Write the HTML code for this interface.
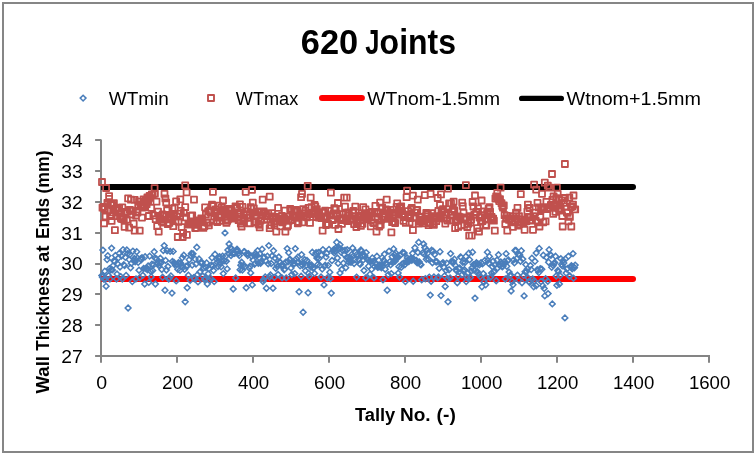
<!DOCTYPE html>
<html><head><meta charset="utf-8"><title>620 Joints</title>
<style>
html,body{margin:0;padding:0;background:#fff;}
svg{display:block;}
text{font-family:"Liberation Sans",sans-serif;fill:#000;}
</style></head><body>
<svg width="755" height="455" viewBox="0 0 755 455">
<rect x="0" y="0" width="755" height="455" fill="#fff"/>
<rect x="3" y="3" width="750" height="449" fill="#fff" stroke="#868686" stroke-width="2"/>
<text y="53.7" font-size="34.2" font-weight="bold"><tspan x="300.8" textLength="57.4" lengthAdjust="spacingAndGlyphs">620</tspan><tspan x="356.8" textLength="10" lengthAdjust="spacingAndGlyphs"> </tspan><tspan x="365.2" textLength="14.2" lengthAdjust="spacingAndGlyphs">J</tspan><tspan x="379.6" textLength="76.4" lengthAdjust="spacingAndGlyphs">oints</tspan></text>
<path d="M83.1 95.2l2.9 2.9l-2.9 2.9l-2.9 -2.9z" fill="none" stroke="#4A7EBB" stroke-width="1.5"/>
<text x="108.8" y="104.7" font-size="17.6" textLength="60" lengthAdjust="spacingAndGlyphs">WTmin</text>
<rect x="208" y="95" width="6" height="6" fill="none" stroke="#C0504D" stroke-width="1.9" stroke-linejoin="round"/>
<text x="235.8" y="104.7" font-size="17.6" textLength="62.4" lengthAdjust="spacingAndGlyphs">WTmax</text>
<line x1="322" y1="98" x2="361.9" y2="98" stroke="#FF0000" stroke-width="6" stroke-linecap="round"/>
<text x="367.2" y="104.7" font-size="17.6" textLength="133" lengthAdjust="spacingAndGlyphs">WTnom-1.5mm</text>
<line x1="521.6" y1="98.4" x2="561.4" y2="98.4" stroke="#000" stroke-width="5.2" stroke-linecap="round"/>
<text x="566.5" y="104.7" font-size="17.6" textLength="134.5" lengthAdjust="spacingAndGlyphs">Wtnom+1.5mm</text>
<path d="M101.0 139.6V356.0M101.0 356.0H710M95.1 356.00H101.0M95.1 325.00H101.0M95.1 294.00H101.0M95.1 264.00H101.0M95.1 233.00H101.0M95.1 202.00H101.0M95.1 171.00H101.0M95.1 140.00H101.0M101.00 356.0V362.7M177.00 356.0V362.7M253.00 356.0V362.7M329.00 356.0V362.7M405.00 356.0V362.7M481.00 356.0V362.7M557.00 356.0V362.7M633.00 356.0V362.7M709.00 356.0V362.7" fill="none" stroke="#848484" stroke-width="2"/>
<text x="82.6" y="362.7" font-size="17.6" text-anchor="end" textLength="21.4" lengthAdjust="spacingAndGlyphs">27</text>
<text x="82.6" y="331.7" font-size="17.6" text-anchor="end" textLength="21.4" lengthAdjust="spacingAndGlyphs">28</text>
<text x="82.6" y="300.7" font-size="17.6" text-anchor="end" textLength="21.4" lengthAdjust="spacingAndGlyphs">29</text>
<text x="82.6" y="269.7" font-size="17.6" text-anchor="end" textLength="21.4" lengthAdjust="spacingAndGlyphs">30</text>
<text x="82.6" y="239.7" font-size="17.6" text-anchor="end" textLength="21.4" lengthAdjust="spacingAndGlyphs">31</text>
<text x="82.6" y="208.7" font-size="17.6" text-anchor="end" textLength="21.4" lengthAdjust="spacingAndGlyphs">32</text>
<text x="82.6" y="177.7" font-size="17.6" text-anchor="end" textLength="21.4" lengthAdjust="spacingAndGlyphs">33</text>
<text x="82.6" y="146.7" font-size="17.6" text-anchor="end" textLength="21.4" lengthAdjust="spacingAndGlyphs">34</text>
<text x="101.6" y="389.2" font-size="17.6" text-anchor="middle" textLength="10.9" lengthAdjust="spacingAndGlyphs">0</text>
<text x="177.6" y="389.2" font-size="17.6" text-anchor="middle" textLength="31.2" lengthAdjust="spacingAndGlyphs">200</text>
<text x="253.6" y="389.2" font-size="17.6" text-anchor="middle" textLength="31.2" lengthAdjust="spacingAndGlyphs">400</text>
<text x="329.6" y="389.2" font-size="17.6" text-anchor="middle" textLength="31.2" lengthAdjust="spacingAndGlyphs">600</text>
<text x="405.6" y="389.2" font-size="17.6" text-anchor="middle" textLength="31.2" lengthAdjust="spacingAndGlyphs">800</text>
<text x="481.6" y="389.2" font-size="17.6" text-anchor="middle" textLength="41.4" lengthAdjust="spacingAndGlyphs">1000</text>
<text x="557.6" y="389.2" font-size="17.6" text-anchor="middle" textLength="41.4" lengthAdjust="spacingAndGlyphs">1200</text>
<text x="633.6" y="389.2" font-size="17.6" text-anchor="middle" textLength="41.4" lengthAdjust="spacingAndGlyphs">1400</text>
<text x="709.6" y="389.2" font-size="17.6" text-anchor="middle" textLength="41.4" lengthAdjust="spacingAndGlyphs">1600</text>
<text y="421.2" font-size="17.6" font-weight="bold"><tspan x="354.9" textLength="40.4" lengthAdjust="spacingAndGlyphs">Tally</tspan> <tspan x="400.0" textLength="30.6" lengthAdjust="spacingAndGlyphs">No.</tspan> <tspan x="436.6" textLength="19.2" lengthAdjust="spacingAndGlyphs">(-)</tspan></text>
<text transform="translate(48.8 393.3) rotate(-90)" font-size="18" font-weight="bold"><tspan x="-0.3" textLength="37.6" lengthAdjust="spacingAndGlyphs">Wall</tspan> <tspan x="42.6" textLength="83.4" lengthAdjust="spacingAndGlyphs">Thickness</tspan> <tspan x="131.2" textLength="16.6" lengthAdjust="spacingAndGlyphs">at</tspan> <tspan x="154.6" textLength="40.8" lengthAdjust="spacingAndGlyphs">Ends</tspan> <tspan x="199.8" textLength="43.0" lengthAdjust="spacingAndGlyphs">(mm)</tspan></text>
<line x1="101.2" y1="279" x2="633" y2="279" stroke="#FF0000" stroke-width="6"/><circle cx="633" cy="279" r="3" fill="#FF0000"/>
<line x1="101.2" y1="187" x2="633" y2="187" stroke="#000" stroke-width="6"/><circle cx="633" cy="187" r="3" fill="#000"/>
<g fill="none" stroke="#4A7EBB" stroke-width="1.5">
<path d="M101.8 272.7l2.9 2.9l-2.9 2.9l-2.9 -2.9zM102.5 274.3l2.9 2.9l-2.9 2.9l-2.9 -2.9zM104.0 276.3l2.9 2.9l-2.9 2.9l-2.9 -2.9zM104.8 268.3l2.9 2.9l-2.9 2.9l-2.9 -2.9zM107.1 256.7l2.9 2.9l-2.9 2.9l-2.9 -2.9zM107.8 252.8l2.9 2.9l-2.9 2.9l-2.9 -2.9zM108.6 272.7l2.9 2.9l-2.9 2.9l-2.9 -2.9zM109.4 265.8l2.9 2.9l-2.9 2.9l-2.9 -2.9zM110.9 266.9l2.9 2.9l-2.9 2.9l-2.9 -2.9zM112.4 267.0l2.9 2.9l-2.9 2.9l-2.9 -2.9zM113.2 262.7l2.9 2.9l-2.9 2.9l-2.9 -2.9zM113.9 257.9l2.9 2.9l-2.9 2.9l-2.9 -2.9zM114.7 258.8l2.9 2.9l-2.9 2.9l-2.9 -2.9zM115.4 252.6l2.9 2.9l-2.9 2.9l-2.9 -2.9zM117.0 271.1l2.9 2.9l-2.9 2.9l-2.9 -2.9zM117.7 261.0l2.9 2.9l-2.9 2.9l-2.9 -2.9zM118.5 254.9l2.9 2.9l-2.9 2.9l-2.9 -2.9zM119.2 250.6l2.9 2.9l-2.9 2.9l-2.9 -2.9zM120.0 264.1l2.9 2.9l-2.9 2.9l-2.9 -2.9zM120.8 273.7l2.9 2.9l-2.9 2.9l-2.9 -2.9zM121.5 253.2l2.9 2.9l-2.9 2.9l-2.9 -2.9zM123.0 246.8l2.9 2.9l-2.9 2.9l-2.9 -2.9zM123.8 261.9l2.9 2.9l-2.9 2.9l-2.9 -2.9zM124.6 262.7l2.9 2.9l-2.9 2.9l-2.9 -2.9zM125.3 254.4l2.9 2.9l-2.9 2.9l-2.9 -2.9zM126.1 272.5l2.9 2.9l-2.9 2.9l-2.9 -2.9zM126.8 247.1l2.9 2.9l-2.9 2.9l-2.9 -2.9zM127.6 250.8l2.9 2.9l-2.9 2.9l-2.9 -2.9zM129.1 256.7l2.9 2.9l-2.9 2.9l-2.9 -2.9zM129.9 251.6l2.9 2.9l-2.9 2.9l-2.9 -2.9zM130.6 264.9l2.9 2.9l-2.9 2.9l-2.9 -2.9zM131.4 260.5l2.9 2.9l-2.9 2.9l-2.9 -2.9zM132.9 248.2l2.9 2.9l-2.9 2.9l-2.9 -2.9zM133.7 258.0l2.9 2.9l-2.9 2.9l-2.9 -2.9zM134.4 255.6l2.9 2.9l-2.9 2.9l-2.9 -2.9zM135.2 258.8l2.9 2.9l-2.9 2.9l-2.9 -2.9zM136.0 276.0l2.9 2.9l-2.9 2.9l-2.9 -2.9zM136.7 248.8l2.9 2.9l-2.9 2.9l-2.9 -2.9zM137.5 255.2l2.9 2.9l-2.9 2.9l-2.9 -2.9zM138.2 259.5l2.9 2.9l-2.9 2.9l-2.9 -2.9zM139.0 267.3l2.9 2.9l-2.9 2.9l-2.9 -2.9zM139.8 274.7l2.9 2.9l-2.9 2.9l-2.9 -2.9zM140.5 255.8l2.9 2.9l-2.9 2.9l-2.9 -2.9zM141.3 256.9l2.9 2.9l-2.9 2.9l-2.9 -2.9zM142.0 254.7l2.9 2.9l-2.9 2.9l-2.9 -2.9zM142.8 272.4l2.9 2.9l-2.9 2.9l-2.9 -2.9zM143.6 265.6l2.9 2.9l-2.9 2.9l-2.9 -2.9zM145.1 253.9l2.9 2.9l-2.9 2.9l-2.9 -2.9zM145.8 265.6l2.9 2.9l-2.9 2.9l-2.9 -2.9zM146.6 264.8l2.9 2.9l-2.9 2.9l-2.9 -2.9zM147.4 266.8l2.9 2.9l-2.9 2.9l-2.9 -2.9zM148.1 263.1l2.9 2.9l-2.9 2.9l-2.9 -2.9zM149.6 253.2l2.9 2.9l-2.9 2.9l-2.9 -2.9zM150.4 268.1l2.9 2.9l-2.9 2.9l-2.9 -2.9zM151.2 274.0l2.9 2.9l-2.9 2.9l-2.9 -2.9zM151.9 261.3l2.9 2.9l-2.9 2.9l-2.9 -2.9zM152.7 267.7l2.9 2.9l-2.9 2.9l-2.9 -2.9zM153.4 262.1l2.9 2.9l-2.9 2.9l-2.9 -2.9zM154.2 248.9l2.9 2.9l-2.9 2.9l-2.9 -2.9zM155.0 255.2l2.9 2.9l-2.9 2.9l-2.9 -2.9zM156.5 256.1l2.9 2.9l-2.9 2.9l-2.9 -2.9zM157.2 260.2l2.9 2.9l-2.9 2.9l-2.9 -2.9zM158.0 260.8l2.9 2.9l-2.9 2.9l-2.9 -2.9zM158.8 262.6l2.9 2.9l-2.9 2.9l-2.9 -2.9zM159.5 259.2l2.9 2.9l-2.9 2.9l-2.9 -2.9zM160.3 255.4l2.9 2.9l-2.9 2.9l-2.9 -2.9zM161.0 260.0l2.9 2.9l-2.9 2.9l-2.9 -2.9zM161.8 266.6l2.9 2.9l-2.9 2.9l-2.9 -2.9zM162.6 274.4l2.9 2.9l-2.9 2.9l-2.9 -2.9zM163.3 247.6l2.9 2.9l-2.9 2.9l-2.9 -2.9zM165.6 257.5l2.9 2.9l-2.9 2.9l-2.9 -2.9zM166.4 267.1l2.9 2.9l-2.9 2.9l-2.9 -2.9zM167.1 247.8l2.9 2.9l-2.9 2.9l-2.9 -2.9zM167.9 263.6l2.9 2.9l-2.9 2.9l-2.9 -2.9zM169.4 275.1l2.9 2.9l-2.9 2.9l-2.9 -2.9zM170.2 248.5l2.9 2.9l-2.9 2.9l-2.9 -2.9zM170.9 273.0l2.9 2.9l-2.9 2.9l-2.9 -2.9zM172.4 258.6l2.9 2.9l-2.9 2.9l-2.9 -2.9zM173.2 248.5l2.9 2.9l-2.9 2.9l-2.9 -2.9zM174.0 259.5l2.9 2.9l-2.9 2.9l-2.9 -2.9zM174.7 260.9l2.9 2.9l-2.9 2.9l-2.9 -2.9zM175.5 262.7l2.9 2.9l-2.9 2.9l-2.9 -2.9zM176.2 278.0l2.9 2.9l-2.9 2.9l-2.9 -2.9zM177.0 261.6l2.9 2.9l-2.9 2.9l-2.9 -2.9zM177.8 266.3l2.9 2.9l-2.9 2.9l-2.9 -2.9zM178.5 259.7l2.9 2.9l-2.9 2.9l-2.9 -2.9zM179.3 261.2l2.9 2.9l-2.9 2.9l-2.9 -2.9zM180.0 267.3l2.9 2.9l-2.9 2.9l-2.9 -2.9zM180.8 260.4l2.9 2.9l-2.9 2.9l-2.9 -2.9zM181.6 262.7l2.9 2.9l-2.9 2.9l-2.9 -2.9zM182.3 254.9l2.9 2.9l-2.9 2.9l-2.9 -2.9zM183.1 264.4l2.9 2.9l-2.9 2.9l-2.9 -2.9zM183.8 252.3l2.9 2.9l-2.9 2.9l-2.9 -2.9zM184.6 266.5l2.9 2.9l-2.9 2.9l-2.9 -2.9zM186.1 263.3l2.9 2.9l-2.9 2.9l-2.9 -2.9zM187.6 262.8l2.9 2.9l-2.9 2.9l-2.9 -2.9zM188.4 272.3l2.9 2.9l-2.9 2.9l-2.9 -2.9zM189.2 256.8l2.9 2.9l-2.9 2.9l-2.9 -2.9zM190.7 252.9l2.9 2.9l-2.9 2.9l-2.9 -2.9zM191.4 250.5l2.9 2.9l-2.9 2.9l-2.9 -2.9zM192.2 262.2l2.9 2.9l-2.9 2.9l-2.9 -2.9zM193.0 250.8l2.9 2.9l-2.9 2.9l-2.9 -2.9zM193.7 274.7l2.9 2.9l-2.9 2.9l-2.9 -2.9zM194.5 276.0l2.9 2.9l-2.9 2.9l-2.9 -2.9zM195.2 256.2l2.9 2.9l-2.9 2.9l-2.9 -2.9zM196.0 261.1l2.9 2.9l-2.9 2.9l-2.9 -2.9zM197.5 271.8l2.9 2.9l-2.9 2.9l-2.9 -2.9zM199.0 256.1l2.9 2.9l-2.9 2.9l-2.9 -2.9zM199.8 269.1l2.9 2.9l-2.9 2.9l-2.9 -2.9zM200.6 259.8l2.9 2.9l-2.9 2.9l-2.9 -2.9zM201.3 260.1l2.9 2.9l-2.9 2.9l-2.9 -2.9zM202.1 259.7l2.9 2.9l-2.9 2.9l-2.9 -2.9zM202.8 273.2l2.9 2.9l-2.9 2.9l-2.9 -2.9zM203.6 265.0l2.9 2.9l-2.9 2.9l-2.9 -2.9zM204.4 276.6l2.9 2.9l-2.9 2.9l-2.9 -2.9zM205.1 275.3l2.9 2.9l-2.9 2.9l-2.9 -2.9zM205.9 264.6l2.9 2.9l-2.9 2.9l-2.9 -2.9zM206.6 260.0l2.9 2.9l-2.9 2.9l-2.9 -2.9zM208.2 270.9l2.9 2.9l-2.9 2.9l-2.9 -2.9zM208.9 265.8l2.9 2.9l-2.9 2.9l-2.9 -2.9zM209.7 277.6l2.9 2.9l-2.9 2.9l-2.9 -2.9zM210.4 275.2l2.9 2.9l-2.9 2.9l-2.9 -2.9zM211.2 262.3l2.9 2.9l-2.9 2.9l-2.9 -2.9zM212.0 254.9l2.9 2.9l-2.9 2.9l-2.9 -2.9zM212.7 263.1l2.9 2.9l-2.9 2.9l-2.9 -2.9zM213.5 267.6l2.9 2.9l-2.9 2.9l-2.9 -2.9zM215.0 251.4l2.9 2.9l-2.9 2.9l-2.9 -2.9zM215.8 261.0l2.9 2.9l-2.9 2.9l-2.9 -2.9zM216.5 256.0l2.9 2.9l-2.9 2.9l-2.9 -2.9zM217.3 259.4l2.9 2.9l-2.9 2.9l-2.9 -2.9zM218.0 263.6l2.9 2.9l-2.9 2.9l-2.9 -2.9zM218.8 255.6l2.9 2.9l-2.9 2.9l-2.9 -2.9zM219.6 253.8l2.9 2.9l-2.9 2.9l-2.9 -2.9zM220.3 260.7l2.9 2.9l-2.9 2.9l-2.9 -2.9zM221.1 263.9l2.9 2.9l-2.9 2.9l-2.9 -2.9zM221.8 258.4l2.9 2.9l-2.9 2.9l-2.9 -2.9zM222.6 253.2l2.9 2.9l-2.9 2.9l-2.9 -2.9zM224.1 258.0l2.9 2.9l-2.9 2.9l-2.9 -2.9zM225.6 253.2l2.9 2.9l-2.9 2.9l-2.9 -2.9zM226.4 258.3l2.9 2.9l-2.9 2.9l-2.9 -2.9zM227.2 266.0l2.9 2.9l-2.9 2.9l-2.9 -2.9zM227.9 247.1l2.9 2.9l-2.9 2.9l-2.9 -2.9zM228.7 250.8l2.9 2.9l-2.9 2.9l-2.9 -2.9zM230.2 245.0l2.9 2.9l-2.9 2.9l-2.9 -2.9zM231.0 252.7l2.9 2.9l-2.9 2.9l-2.9 -2.9zM231.7 245.8l2.9 2.9l-2.9 2.9l-2.9 -2.9zM232.5 250.9l2.9 2.9l-2.9 2.9l-2.9 -2.9zM234.0 250.5l2.9 2.9l-2.9 2.9l-2.9 -2.9zM234.8 250.3l2.9 2.9l-2.9 2.9l-2.9 -2.9zM236.3 247.7l2.9 2.9l-2.9 2.9l-2.9 -2.9zM237.0 246.4l2.9 2.9l-2.9 2.9l-2.9 -2.9zM237.8 248.1l2.9 2.9l-2.9 2.9l-2.9 -2.9zM238.6 250.3l2.9 2.9l-2.9 2.9l-2.9 -2.9zM239.3 252.7l2.9 2.9l-2.9 2.9l-2.9 -2.9zM240.1 266.9l2.9 2.9l-2.9 2.9l-2.9 -2.9zM240.8 262.3l2.9 2.9l-2.9 2.9l-2.9 -2.9zM241.6 259.4l2.9 2.9l-2.9 2.9l-2.9 -2.9zM242.4 267.2l2.9 2.9l-2.9 2.9l-2.9 -2.9zM243.1 262.7l2.9 2.9l-2.9 2.9l-2.9 -2.9zM243.9 248.8l2.9 2.9l-2.9 2.9l-2.9 -2.9zM244.6 248.9l2.9 2.9l-2.9 2.9l-2.9 -2.9zM245.4 263.7l2.9 2.9l-2.9 2.9l-2.9 -2.9zM246.9 250.7l2.9 2.9l-2.9 2.9l-2.9 -2.9zM247.7 252.7l2.9 2.9l-2.9 2.9l-2.9 -2.9zM248.4 250.8l2.9 2.9l-2.9 2.9l-2.9 -2.9zM249.2 265.1l2.9 2.9l-2.9 2.9l-2.9 -2.9zM250.0 263.4l2.9 2.9l-2.9 2.9l-2.9 -2.9zM250.7 270.0l2.9 2.9l-2.9 2.9l-2.9 -2.9zM251.5 253.3l2.9 2.9l-2.9 2.9l-2.9 -2.9zM253.0 257.2l2.9 2.9l-2.9 2.9l-2.9 -2.9zM253.8 252.0l2.9 2.9l-2.9 2.9l-2.9 -2.9zM254.5 261.4l2.9 2.9l-2.9 2.9l-2.9 -2.9zM255.3 260.4l2.9 2.9l-2.9 2.9l-2.9 -2.9zM256.0 251.0l2.9 2.9l-2.9 2.9l-2.9 -2.9zM256.8 252.9l2.9 2.9l-2.9 2.9l-2.9 -2.9zM257.6 247.7l2.9 2.9l-2.9 2.9l-2.9 -2.9zM258.3 260.3l2.9 2.9l-2.9 2.9l-2.9 -2.9zM259.1 254.7l2.9 2.9l-2.9 2.9l-2.9 -2.9zM259.8 251.0l2.9 2.9l-2.9 2.9l-2.9 -2.9zM260.6 260.3l2.9 2.9l-2.9 2.9l-2.9 -2.9zM261.4 259.0l2.9 2.9l-2.9 2.9l-2.9 -2.9zM262.1 246.3l2.9 2.9l-2.9 2.9l-2.9 -2.9zM263.6 276.6l2.9 2.9l-2.9 2.9l-2.9 -2.9zM264.4 254.4l2.9 2.9l-2.9 2.9l-2.9 -2.9zM265.2 274.1l2.9 2.9l-2.9 2.9l-2.9 -2.9zM265.9 258.0l2.9 2.9l-2.9 2.9l-2.9 -2.9zM267.4 253.2l2.9 2.9l-2.9 2.9l-2.9 -2.9zM268.2 260.8l2.9 2.9l-2.9 2.9l-2.9 -2.9zM270.5 272.1l2.9 2.9l-2.9 2.9l-2.9 -2.9zM271.2 260.6l2.9 2.9l-2.9 2.9l-2.9 -2.9zM272.0 253.1l2.9 2.9l-2.9 2.9l-2.9 -2.9zM273.5 247.9l2.9 2.9l-2.9 2.9l-2.9 -2.9zM274.3 274.5l2.9 2.9l-2.9 2.9l-2.9 -2.9zM275.0 255.1l2.9 2.9l-2.9 2.9l-2.9 -2.9zM275.8 265.3l2.9 2.9l-2.9 2.9l-2.9 -2.9zM276.6 261.4l2.9 2.9l-2.9 2.9l-2.9 -2.9zM277.3 263.6l2.9 2.9l-2.9 2.9l-2.9 -2.9zM278.1 271.6l2.9 2.9l-2.9 2.9l-2.9 -2.9zM278.8 254.1l2.9 2.9l-2.9 2.9l-2.9 -2.9zM279.6 259.1l2.9 2.9l-2.9 2.9l-2.9 -2.9zM280.4 259.5l2.9 2.9l-2.9 2.9l-2.9 -2.9zM281.1 262.6l2.9 2.9l-2.9 2.9l-2.9 -2.9zM282.6 263.2l2.9 2.9l-2.9 2.9l-2.9 -2.9zM283.4 263.0l2.9 2.9l-2.9 2.9l-2.9 -2.9zM284.2 266.9l2.9 2.9l-2.9 2.9l-2.9 -2.9zM284.9 266.2l2.9 2.9l-2.9 2.9l-2.9 -2.9zM285.7 259.2l2.9 2.9l-2.9 2.9l-2.9 -2.9zM287.2 245.7l2.9 2.9l-2.9 2.9l-2.9 -2.9zM288.0 258.8l2.9 2.9l-2.9 2.9l-2.9 -2.9zM288.7 249.8l2.9 2.9l-2.9 2.9l-2.9 -2.9zM289.5 256.7l2.9 2.9l-2.9 2.9l-2.9 -2.9zM290.2 256.5l2.9 2.9l-2.9 2.9l-2.9 -2.9zM291.0 265.1l2.9 2.9l-2.9 2.9l-2.9 -2.9zM291.8 271.6l2.9 2.9l-2.9 2.9l-2.9 -2.9zM292.5 258.7l2.9 2.9l-2.9 2.9l-2.9 -2.9zM293.3 261.8l2.9 2.9l-2.9 2.9l-2.9 -2.9zM294.0 260.4l2.9 2.9l-2.9 2.9l-2.9 -2.9zM294.8 270.7l2.9 2.9l-2.9 2.9l-2.9 -2.9zM296.3 255.9l2.9 2.9l-2.9 2.9l-2.9 -2.9zM297.1 259.5l2.9 2.9l-2.9 2.9l-2.9 -2.9zM297.8 254.3l2.9 2.9l-2.9 2.9l-2.9 -2.9zM298.6 259.1l2.9 2.9l-2.9 2.9l-2.9 -2.9zM300.1 262.9l2.9 2.9l-2.9 2.9l-2.9 -2.9zM301.6 251.7l2.9 2.9l-2.9 2.9l-2.9 -2.9zM302.4 262.3l2.9 2.9l-2.9 2.9l-2.9 -2.9zM303.9 260.0l2.9 2.9l-2.9 2.9l-2.9 -2.9zM304.7 256.9l2.9 2.9l-2.9 2.9l-2.9 -2.9zM305.4 267.9l2.9 2.9l-2.9 2.9l-2.9 -2.9zM306.2 262.3l2.9 2.9l-2.9 2.9l-2.9 -2.9zM307.0 257.5l2.9 2.9l-2.9 2.9l-2.9 -2.9zM308.5 270.4l2.9 2.9l-2.9 2.9l-2.9 -2.9zM309.2 273.5l2.9 2.9l-2.9 2.9l-2.9 -2.9zM310.0 262.1l2.9 2.9l-2.9 2.9l-2.9 -2.9zM310.8 264.2l2.9 2.9l-2.9 2.9l-2.9 -2.9zM311.5 262.1l2.9 2.9l-2.9 2.9l-2.9 -2.9zM312.3 249.4l2.9 2.9l-2.9 2.9l-2.9 -2.9zM313.0 265.2l2.9 2.9l-2.9 2.9l-2.9 -2.9zM313.8 264.8l2.9 2.9l-2.9 2.9l-2.9 -2.9zM314.6 270.5l2.9 2.9l-2.9 2.9l-2.9 -2.9zM315.3 251.6l2.9 2.9l-2.9 2.9l-2.9 -2.9zM316.1 249.8l2.9 2.9l-2.9 2.9l-2.9 -2.9zM316.8 255.2l2.9 2.9l-2.9 2.9l-2.9 -2.9zM317.6 261.8l2.9 2.9l-2.9 2.9l-2.9 -2.9zM318.4 249.6l2.9 2.9l-2.9 2.9l-2.9 -2.9zM319.1 255.5l2.9 2.9l-2.9 2.9l-2.9 -2.9zM319.9 262.5l2.9 2.9l-2.9 2.9l-2.9 -2.9zM321.4 252.2l2.9 2.9l-2.9 2.9l-2.9 -2.9zM322.2 266.2l2.9 2.9l-2.9 2.9l-2.9 -2.9zM322.9 246.7l2.9 2.9l-2.9 2.9l-2.9 -2.9zM324.4 263.5l2.9 2.9l-2.9 2.9l-2.9 -2.9zM325.2 262.3l2.9 2.9l-2.9 2.9l-2.9 -2.9zM326.0 254.2l2.9 2.9l-2.9 2.9l-2.9 -2.9zM326.7 250.5l2.9 2.9l-2.9 2.9l-2.9 -2.9zM328.2 262.5l2.9 2.9l-2.9 2.9l-2.9 -2.9zM329.0 246.5l2.9 2.9l-2.9 2.9l-2.9 -2.9zM329.8 269.3l2.9 2.9l-2.9 2.9l-2.9 -2.9zM330.5 275.6l2.9 2.9l-2.9 2.9l-2.9 -2.9zM332.0 257.6l2.9 2.9l-2.9 2.9l-2.9 -2.9zM332.8 248.0l2.9 2.9l-2.9 2.9l-2.9 -2.9zM333.6 246.8l2.9 2.9l-2.9 2.9l-2.9 -2.9zM334.3 250.0l2.9 2.9l-2.9 2.9l-2.9 -2.9zM335.1 248.1l2.9 2.9l-2.9 2.9l-2.9 -2.9zM335.8 245.1l2.9 2.9l-2.9 2.9l-2.9 -2.9zM337.4 255.1l2.9 2.9l-2.9 2.9l-2.9 -2.9zM338.1 260.5l2.9 2.9l-2.9 2.9l-2.9 -2.9zM338.9 244.5l2.9 2.9l-2.9 2.9l-2.9 -2.9zM341.2 249.4l2.9 2.9l-2.9 2.9l-2.9 -2.9zM341.9 266.4l2.9 2.9l-2.9 2.9l-2.9 -2.9zM342.7 247.6l2.9 2.9l-2.9 2.9l-2.9 -2.9zM343.4 260.2l2.9 2.9l-2.9 2.9l-2.9 -2.9zM344.2 251.6l2.9 2.9l-2.9 2.9l-2.9 -2.9zM345.0 247.4l2.9 2.9l-2.9 2.9l-2.9 -2.9zM345.7 264.9l2.9 2.9l-2.9 2.9l-2.9 -2.9zM346.5 254.7l2.9 2.9l-2.9 2.9l-2.9 -2.9zM347.2 246.9l2.9 2.9l-2.9 2.9l-2.9 -2.9zM348.0 255.0l2.9 2.9l-2.9 2.9l-2.9 -2.9zM348.8 259.4l2.9 2.9l-2.9 2.9l-2.9 -2.9zM349.5 257.1l2.9 2.9l-2.9 2.9l-2.9 -2.9zM350.3 255.1l2.9 2.9l-2.9 2.9l-2.9 -2.9zM351.0 259.5l2.9 2.9l-2.9 2.9l-2.9 -2.9zM351.8 251.5l2.9 2.9l-2.9 2.9l-2.9 -2.9zM352.6 245.1l2.9 2.9l-2.9 2.9l-2.9 -2.9zM353.3 253.1l2.9 2.9l-2.9 2.9l-2.9 -2.9zM354.1 260.6l2.9 2.9l-2.9 2.9l-2.9 -2.9zM354.8 256.7l2.9 2.9l-2.9 2.9l-2.9 -2.9zM355.6 249.4l2.9 2.9l-2.9 2.9l-2.9 -2.9zM357.1 251.3l2.9 2.9l-2.9 2.9l-2.9 -2.9zM357.9 253.4l2.9 2.9l-2.9 2.9l-2.9 -2.9zM358.6 256.6l2.9 2.9l-2.9 2.9l-2.9 -2.9zM359.4 260.7l2.9 2.9l-2.9 2.9l-2.9 -2.9zM360.2 261.5l2.9 2.9l-2.9 2.9l-2.9 -2.9zM360.9 247.0l2.9 2.9l-2.9 2.9l-2.9 -2.9zM361.7 248.2l2.9 2.9l-2.9 2.9l-2.9 -2.9zM362.4 253.0l2.9 2.9l-2.9 2.9l-2.9 -2.9zM363.2 257.1l2.9 2.9l-2.9 2.9l-2.9 -2.9zM364.0 267.6l2.9 2.9l-2.9 2.9l-2.9 -2.9zM364.7 252.6l2.9 2.9l-2.9 2.9l-2.9 -2.9zM366.2 249.7l2.9 2.9l-2.9 2.9l-2.9 -2.9zM367.0 256.0l2.9 2.9l-2.9 2.9l-2.9 -2.9zM367.8 257.2l2.9 2.9l-2.9 2.9l-2.9 -2.9zM368.5 263.3l2.9 2.9l-2.9 2.9l-2.9 -2.9zM369.3 258.2l2.9 2.9l-2.9 2.9l-2.9 -2.9zM370.0 271.3l2.9 2.9l-2.9 2.9l-2.9 -2.9zM370.8 258.6l2.9 2.9l-2.9 2.9l-2.9 -2.9zM371.6 266.5l2.9 2.9l-2.9 2.9l-2.9 -2.9zM372.3 255.0l2.9 2.9l-2.9 2.9l-2.9 -2.9zM373.1 258.6l2.9 2.9l-2.9 2.9l-2.9 -2.9zM374.6 263.6l2.9 2.9l-2.9 2.9l-2.9 -2.9zM375.4 259.9l2.9 2.9l-2.9 2.9l-2.9 -2.9zM376.1 261.5l2.9 2.9l-2.9 2.9l-2.9 -2.9zM376.9 253.4l2.9 2.9l-2.9 2.9l-2.9 -2.9zM377.6 264.4l2.9 2.9l-2.9 2.9l-2.9 -2.9zM378.4 264.2l2.9 2.9l-2.9 2.9l-2.9 -2.9zM379.2 262.1l2.9 2.9l-2.9 2.9l-2.9 -2.9zM379.9 263.9l2.9 2.9l-2.9 2.9l-2.9 -2.9zM380.7 262.3l2.9 2.9l-2.9 2.9l-2.9 -2.9zM381.4 264.8l2.9 2.9l-2.9 2.9l-2.9 -2.9zM382.2 254.8l2.9 2.9l-2.9 2.9l-2.9 -2.9zM383.0 276.9l2.9 2.9l-2.9 2.9l-2.9 -2.9zM383.7 257.3l2.9 2.9l-2.9 2.9l-2.9 -2.9zM384.5 251.2l2.9 2.9l-2.9 2.9l-2.9 -2.9zM385.2 266.3l2.9 2.9l-2.9 2.9l-2.9 -2.9zM386.0 259.8l2.9 2.9l-2.9 2.9l-2.9 -2.9zM386.8 261.8l2.9 2.9l-2.9 2.9l-2.9 -2.9zM388.3 271.8l2.9 2.9l-2.9 2.9l-2.9 -2.9zM389.0 248.3l2.9 2.9l-2.9 2.9l-2.9 -2.9zM389.8 258.8l2.9 2.9l-2.9 2.9l-2.9 -2.9zM390.6 261.9l2.9 2.9l-2.9 2.9l-2.9 -2.9zM391.3 270.7l2.9 2.9l-2.9 2.9l-2.9 -2.9zM392.1 253.8l2.9 2.9l-2.9 2.9l-2.9 -2.9zM392.8 259.9l2.9 2.9l-2.9 2.9l-2.9 -2.9zM393.6 246.0l2.9 2.9l-2.9 2.9l-2.9 -2.9zM394.4 251.9l2.9 2.9l-2.9 2.9l-2.9 -2.9zM395.1 258.4l2.9 2.9l-2.9 2.9l-2.9 -2.9zM395.9 250.3l2.9 2.9l-2.9 2.9l-2.9 -2.9zM396.6 256.1l2.9 2.9l-2.9 2.9l-2.9 -2.9zM397.4 253.3l2.9 2.9l-2.9 2.9l-2.9 -2.9zM398.2 270.2l2.9 2.9l-2.9 2.9l-2.9 -2.9zM398.9 263.9l2.9 2.9l-2.9 2.9l-2.9 -2.9zM400.4 252.4l2.9 2.9l-2.9 2.9l-2.9 -2.9zM401.2 264.5l2.9 2.9l-2.9 2.9l-2.9 -2.9zM402.0 261.2l2.9 2.9l-2.9 2.9l-2.9 -2.9zM402.7 249.6l2.9 2.9l-2.9 2.9l-2.9 -2.9zM403.5 260.2l2.9 2.9l-2.9 2.9l-2.9 -2.9zM404.2 250.1l2.9 2.9l-2.9 2.9l-2.9 -2.9zM405.0 261.6l2.9 2.9l-2.9 2.9l-2.9 -2.9zM406.5 258.8l2.9 2.9l-2.9 2.9l-2.9 -2.9zM407.3 255.0l2.9 2.9l-2.9 2.9l-2.9 -2.9zM408.0 256.9l2.9 2.9l-2.9 2.9l-2.9 -2.9zM408.8 258.7l2.9 2.9l-2.9 2.9l-2.9 -2.9zM409.6 258.0l2.9 2.9l-2.9 2.9l-2.9 -2.9zM410.3 255.8l2.9 2.9l-2.9 2.9l-2.9 -2.9zM411.1 255.4l2.9 2.9l-2.9 2.9l-2.9 -2.9zM411.8 257.4l2.9 2.9l-2.9 2.9l-2.9 -2.9zM412.6 250.4l2.9 2.9l-2.9 2.9l-2.9 -2.9zM414.1 256.6l2.9 2.9l-2.9 2.9l-2.9 -2.9zM414.9 244.9l2.9 2.9l-2.9 2.9l-2.9 -2.9zM415.6 257.7l2.9 2.9l-2.9 2.9l-2.9 -2.9zM416.4 257.6l2.9 2.9l-2.9 2.9l-2.9 -2.9zM417.2 260.0l2.9 2.9l-2.9 2.9l-2.9 -2.9zM417.9 249.6l2.9 2.9l-2.9 2.9l-2.9 -2.9zM419.4 259.1l2.9 2.9l-2.9 2.9l-2.9 -2.9zM420.2 261.4l2.9 2.9l-2.9 2.9l-2.9 -2.9zM421.0 261.9l2.9 2.9l-2.9 2.9l-2.9 -2.9zM421.7 276.8l2.9 2.9l-2.9 2.9l-2.9 -2.9zM422.5 250.0l2.9 2.9l-2.9 2.9l-2.9 -2.9zM424.0 251.0l2.9 2.9l-2.9 2.9l-2.9 -2.9zM424.8 244.6l2.9 2.9l-2.9 2.9l-2.9 -2.9zM426.3 256.4l2.9 2.9l-2.9 2.9l-2.9 -2.9zM427.0 247.2l2.9 2.9l-2.9 2.9l-2.9 -2.9zM427.8 250.2l2.9 2.9l-2.9 2.9l-2.9 -2.9zM428.6 256.3l2.9 2.9l-2.9 2.9l-2.9 -2.9zM429.3 274.2l2.9 2.9l-2.9 2.9l-2.9 -2.9zM431.6 247.4l2.9 2.9l-2.9 2.9l-2.9 -2.9zM432.4 259.8l2.9 2.9l-2.9 2.9l-2.9 -2.9zM433.1 248.4l2.9 2.9l-2.9 2.9l-2.9 -2.9zM433.9 274.1l2.9 2.9l-2.9 2.9l-2.9 -2.9zM434.6 251.6l2.9 2.9l-2.9 2.9l-2.9 -2.9zM435.4 258.6l2.9 2.9l-2.9 2.9l-2.9 -2.9zM436.2 258.8l2.9 2.9l-2.9 2.9l-2.9 -2.9zM436.9 258.8l2.9 2.9l-2.9 2.9l-2.9 -2.9zM438.4 274.0l2.9 2.9l-2.9 2.9l-2.9 -2.9zM439.2 265.5l2.9 2.9l-2.9 2.9l-2.9 -2.9zM440.0 248.8l2.9 2.9l-2.9 2.9l-2.9 -2.9zM441.5 261.0l2.9 2.9l-2.9 2.9l-2.9 -2.9zM442.2 260.7l2.9 2.9l-2.9 2.9l-2.9 -2.9zM443.0 259.7l2.9 2.9l-2.9 2.9l-2.9 -2.9zM443.8 264.3l2.9 2.9l-2.9 2.9l-2.9 -2.9zM444.5 273.0l2.9 2.9l-2.9 2.9l-2.9 -2.9zM446.0 267.5l2.9 2.9l-2.9 2.9l-2.9 -2.9zM446.8 260.2l2.9 2.9l-2.9 2.9l-2.9 -2.9zM447.6 275.9l2.9 2.9l-2.9 2.9l-2.9 -2.9zM449.1 266.8l2.9 2.9l-2.9 2.9l-2.9 -2.9zM450.6 250.7l2.9 2.9l-2.9 2.9l-2.9 -2.9zM451.4 258.6l2.9 2.9l-2.9 2.9l-2.9 -2.9zM452.1 259.2l2.9 2.9l-2.9 2.9l-2.9 -2.9zM452.9 260.2l2.9 2.9l-2.9 2.9l-2.9 -2.9zM453.6 259.2l2.9 2.9l-2.9 2.9l-2.9 -2.9zM454.4 256.3l2.9 2.9l-2.9 2.9l-2.9 -2.9zM455.2 262.4l2.9 2.9l-2.9 2.9l-2.9 -2.9zM455.9 266.7l2.9 2.9l-2.9 2.9l-2.9 -2.9zM456.7 268.0l2.9 2.9l-2.9 2.9l-2.9 -2.9zM458.2 273.3l2.9 2.9l-2.9 2.9l-2.9 -2.9zM459.0 266.0l2.9 2.9l-2.9 2.9l-2.9 -2.9zM459.7 265.0l2.9 2.9l-2.9 2.9l-2.9 -2.9zM460.5 254.0l2.9 2.9l-2.9 2.9l-2.9 -2.9zM461.2 254.6l2.9 2.9l-2.9 2.9l-2.9 -2.9zM462.0 271.9l2.9 2.9l-2.9 2.9l-2.9 -2.9zM462.8 259.4l2.9 2.9l-2.9 2.9l-2.9 -2.9zM463.5 268.4l2.9 2.9l-2.9 2.9l-2.9 -2.9zM464.3 266.7l2.9 2.9l-2.9 2.9l-2.9 -2.9zM465.0 259.6l2.9 2.9l-2.9 2.9l-2.9 -2.9zM465.8 253.6l2.9 2.9l-2.9 2.9l-2.9 -2.9zM467.3 274.8l2.9 2.9l-2.9 2.9l-2.9 -2.9zM468.1 270.0l2.9 2.9l-2.9 2.9l-2.9 -2.9zM468.8 250.3l2.9 2.9l-2.9 2.9l-2.9 -2.9zM469.6 256.8l2.9 2.9l-2.9 2.9l-2.9 -2.9zM470.4 274.6l2.9 2.9l-2.9 2.9l-2.9 -2.9zM471.1 268.4l2.9 2.9l-2.9 2.9l-2.9 -2.9zM471.9 265.1l2.9 2.9l-2.9 2.9l-2.9 -2.9zM473.4 261.7l2.9 2.9l-2.9 2.9l-2.9 -2.9zM474.2 267.5l2.9 2.9l-2.9 2.9l-2.9 -2.9zM475.7 261.5l2.9 2.9l-2.9 2.9l-2.9 -2.9zM476.4 259.9l2.9 2.9l-2.9 2.9l-2.9 -2.9zM477.2 268.6l2.9 2.9l-2.9 2.9l-2.9 -2.9zM478.0 261.1l2.9 2.9l-2.9 2.9l-2.9 -2.9zM478.7 271.3l2.9 2.9l-2.9 2.9l-2.9 -2.9zM479.5 261.9l2.9 2.9l-2.9 2.9l-2.9 -2.9zM480.2 273.7l2.9 2.9l-2.9 2.9l-2.9 -2.9zM481.0 259.9l2.9 2.9l-2.9 2.9l-2.9 -2.9zM482.5 261.0l2.9 2.9l-2.9 2.9l-2.9 -2.9zM483.3 270.7l2.9 2.9l-2.9 2.9l-2.9 -2.9zM484.0 279.1l2.9 2.9l-2.9 2.9l-2.9 -2.9zM484.8 257.6l2.9 2.9l-2.9 2.9l-2.9 -2.9zM486.3 274.9l2.9 2.9l-2.9 2.9l-2.9 -2.9zM487.8 257.5l2.9 2.9l-2.9 2.9l-2.9 -2.9zM488.6 260.4l2.9 2.9l-2.9 2.9l-2.9 -2.9zM489.4 253.5l2.9 2.9l-2.9 2.9l-2.9 -2.9zM490.1 274.8l2.9 2.9l-2.9 2.9l-2.9 -2.9zM490.9 273.8l2.9 2.9l-2.9 2.9l-2.9 -2.9zM491.6 270.2l2.9 2.9l-2.9 2.9l-2.9 -2.9zM492.4 263.8l2.9 2.9l-2.9 2.9l-2.9 -2.9zM493.2 258.2l2.9 2.9l-2.9 2.9l-2.9 -2.9zM493.9 269.2l2.9 2.9l-2.9 2.9l-2.9 -2.9zM494.7 262.0l2.9 2.9l-2.9 2.9l-2.9 -2.9zM495.4 261.6l2.9 2.9l-2.9 2.9l-2.9 -2.9zM497.0 257.2l2.9 2.9l-2.9 2.9l-2.9 -2.9zM497.7 265.1l2.9 2.9l-2.9 2.9l-2.9 -2.9zM498.5 251.9l2.9 2.9l-2.9 2.9l-2.9 -2.9zM499.2 262.2l2.9 2.9l-2.9 2.9l-2.9 -2.9zM500.0 262.1l2.9 2.9l-2.9 2.9l-2.9 -2.9zM500.8 259.0l2.9 2.9l-2.9 2.9l-2.9 -2.9zM501.5 260.7l2.9 2.9l-2.9 2.9l-2.9 -2.9zM502.3 264.0l2.9 2.9l-2.9 2.9l-2.9 -2.9zM503.0 263.4l2.9 2.9l-2.9 2.9l-2.9 -2.9zM503.8 261.7l2.9 2.9l-2.9 2.9l-2.9 -2.9zM504.6 258.6l2.9 2.9l-2.9 2.9l-2.9 -2.9zM505.3 276.1l2.9 2.9l-2.9 2.9l-2.9 -2.9zM506.1 250.8l2.9 2.9l-2.9 2.9l-2.9 -2.9zM506.8 263.4l2.9 2.9l-2.9 2.9l-2.9 -2.9zM507.6 258.0l2.9 2.9l-2.9 2.9l-2.9 -2.9zM508.4 257.1l2.9 2.9l-2.9 2.9l-2.9 -2.9zM509.1 269.2l2.9 2.9l-2.9 2.9l-2.9 -2.9zM509.9 272.5l2.9 2.9l-2.9 2.9l-2.9 -2.9zM510.6 271.8l2.9 2.9l-2.9 2.9l-2.9 -2.9zM513.7 257.0l2.9 2.9l-2.9 2.9l-2.9 -2.9zM514.4 260.0l2.9 2.9l-2.9 2.9l-2.9 -2.9zM516.0 247.6l2.9 2.9l-2.9 2.9l-2.9 -2.9zM516.7 255.7l2.9 2.9l-2.9 2.9l-2.9 -2.9zM517.5 272.2l2.9 2.9l-2.9 2.9l-2.9 -2.9zM518.2 251.5l2.9 2.9l-2.9 2.9l-2.9 -2.9zM519.0 277.4l2.9 2.9l-2.9 2.9l-2.9 -2.9zM519.8 252.1l2.9 2.9l-2.9 2.9l-2.9 -2.9zM520.5 258.3l2.9 2.9l-2.9 2.9l-2.9 -2.9zM521.3 247.8l2.9 2.9l-2.9 2.9l-2.9 -2.9zM522.0 279.8l2.9 2.9l-2.9 2.9l-2.9 -2.9zM522.8 256.2l2.9 2.9l-2.9 2.9l-2.9 -2.9zM523.6 272.4l2.9 2.9l-2.9 2.9l-2.9 -2.9zM525.1 268.9l2.9 2.9l-2.9 2.9l-2.9 -2.9zM525.8 261.7l2.9 2.9l-2.9 2.9l-2.9 -2.9zM526.6 268.6l2.9 2.9l-2.9 2.9l-2.9 -2.9zM527.4 266.0l2.9 2.9l-2.9 2.9l-2.9 -2.9zM528.1 275.0l2.9 2.9l-2.9 2.9l-2.9 -2.9zM529.6 279.7l2.9 2.9l-2.9 2.9l-2.9 -2.9zM530.4 262.6l2.9 2.9l-2.9 2.9l-2.9 -2.9zM531.2 266.7l2.9 2.9l-2.9 2.9l-2.9 -2.9zM531.9 255.3l2.9 2.9l-2.9 2.9l-2.9 -2.9zM532.7 276.1l2.9 2.9l-2.9 2.9l-2.9 -2.9zM534.2 277.9l2.9 2.9l-2.9 2.9l-2.9 -2.9zM535.0 258.4l2.9 2.9l-2.9 2.9l-2.9 -2.9zM537.2 266.8l2.9 2.9l-2.9 2.9l-2.9 -2.9zM538.0 267.5l2.9 2.9l-2.9 2.9l-2.9 -2.9zM538.8 269.7l2.9 2.9l-2.9 2.9l-2.9 -2.9zM540.3 265.7l2.9 2.9l-2.9 2.9l-2.9 -2.9zM541.0 278.6l2.9 2.9l-2.9 2.9l-2.9 -2.9zM541.8 266.4l2.9 2.9l-2.9 2.9l-2.9 -2.9zM543.3 252.3l2.9 2.9l-2.9 2.9l-2.9 -2.9zM545.6 275.8l2.9 2.9l-2.9 2.9l-2.9 -2.9zM546.4 254.5l2.9 2.9l-2.9 2.9l-2.9 -2.9zM548.6 259.3l2.9 2.9l-2.9 2.9l-2.9 -2.9zM550.2 251.5l2.9 2.9l-2.9 2.9l-2.9 -2.9zM550.9 252.5l2.9 2.9l-2.9 2.9l-2.9 -2.9zM551.7 264.4l2.9 2.9l-2.9 2.9l-2.9 -2.9zM553.2 262.6l2.9 2.9l-2.9 2.9l-2.9 -2.9zM554.0 260.8l2.9 2.9l-2.9 2.9l-2.9 -2.9zM554.7 259.5l2.9 2.9l-2.9 2.9l-2.9 -2.9zM555.5 253.4l2.9 2.9l-2.9 2.9l-2.9 -2.9zM556.2 273.1l2.9 2.9l-2.9 2.9l-2.9 -2.9zM557.8 267.5l2.9 2.9l-2.9 2.9l-2.9 -2.9zM558.5 268.9l2.9 2.9l-2.9 2.9l-2.9 -2.9zM560.0 272.9l2.9 2.9l-2.9 2.9l-2.9 -2.9zM560.8 255.9l2.9 2.9l-2.9 2.9l-2.9 -2.9zM561.6 261.4l2.9 2.9l-2.9 2.9l-2.9 -2.9zM562.3 263.0l2.9 2.9l-2.9 2.9l-2.9 -2.9zM563.1 257.7l2.9 2.9l-2.9 2.9l-2.9 -2.9zM563.8 260.2l2.9 2.9l-2.9 2.9l-2.9 -2.9zM565.4 256.1l2.9 2.9l-2.9 2.9l-2.9 -2.9zM566.1 270.2l2.9 2.9l-2.9 2.9l-2.9 -2.9zM566.9 266.2l2.9 2.9l-2.9 2.9l-2.9 -2.9zM567.6 265.5l2.9 2.9l-2.9 2.9l-2.9 -2.9zM568.4 253.4l2.9 2.9l-2.9 2.9l-2.9 -2.9zM569.2 273.1l2.9 2.9l-2.9 2.9l-2.9 -2.9zM569.9 273.1l2.9 2.9l-2.9 2.9l-2.9 -2.9zM571.4 262.7l2.9 2.9l-2.9 2.9l-2.9 -2.9zM572.2 265.8l2.9 2.9l-2.9 2.9l-2.9 -2.9zM573.0 250.7l2.9 2.9l-2.9 2.9l-2.9 -2.9zM574.5 264.8l2.9 2.9l-2.9 2.9l-2.9 -2.9zM575.2 262.2l2.9 2.9l-2.9 2.9l-2.9 -2.9zM164.2 242.7l2.9 2.9l-2.9 2.9l-2.9 -2.9zM111.6 245.2l2.9 2.9l-2.9 2.9l-2.9 -2.9zM102.9 247.2l2.9 2.9l-2.9 2.9l-2.9 -2.9zM196.8 244.4l2.9 2.9l-2.9 2.9l-2.9 -2.9zM106.1 283.3l2.9 2.9l-2.9 2.9l-2.9 -2.9zM105.3 276.1l2.9 2.9l-2.9 2.9l-2.9 -2.9zM109.9 276.1l2.9 2.9l-2.9 2.9l-2.9 -2.9zM116.5 276.1l2.9 2.9l-2.9 2.9l-2.9 -2.9zM122.3 276.1l2.9 2.9l-2.9 2.9l-2.9 -2.9zM132.3 278.7l2.9 2.9l-2.9 2.9l-2.9 -2.9zM144.7 281.1l2.9 2.9l-2.9 2.9l-2.9 -2.9zM148.8 279.5l2.9 2.9l-2.9 2.9l-2.9 -2.9zM155.4 281.1l2.9 2.9l-2.9 2.9l-2.9 -2.9zM168.7 276.1l2.9 2.9l-2.9 2.9l-2.9 -2.9zM165.0 287.3l2.9 2.9l-2.9 2.9l-2.9 -2.9zM172.0 290.2l2.9 2.9l-2.9 2.9l-2.9 -2.9zM187.2 284.9l2.9 2.9l-2.9 2.9l-2.9 -2.9zM185.2 298.9l2.9 2.9l-2.9 2.9l-2.9 -2.9zM128.1 305.1l2.9 2.9l-2.9 2.9l-2.9 -2.9zM190.2 277.3l2.9 2.9l-2.9 2.9l-2.9 -2.9zM198.0 279.0l2.9 2.9l-2.9 2.9l-2.9 -2.9zM207.3 281.1l2.9 2.9l-2.9 2.9l-2.9 -2.9zM214.2 278.7l2.9 2.9l-2.9 2.9l-2.9 -2.9zM225.0 230.0l2.9 2.9l-2.9 2.9l-2.9 -2.9zM268.8 242.7l2.9 2.9l-2.9 2.9l-2.9 -2.9zM229.1 241.1l2.9 2.9l-2.9 2.9l-2.9 -2.9zM295.3 245.7l2.9 2.9l-2.9 2.9l-2.9 -2.9zM336.7 239.4l2.9 2.9l-2.9 2.9l-2.9 -2.9zM340.0 241.9l2.9 2.9l-2.9 2.9l-2.9 -2.9zM233.2 286.1l2.9 2.9l-2.9 2.9l-2.9 -2.9zM246.2 284.9l2.9 2.9l-2.9 2.9l-2.9 -2.9zM252.3 282.0l2.9 2.9l-2.9 2.9l-2.9 -2.9zM263.0 278.7l2.9 2.9l-2.9 2.9l-2.9 -2.9zM266.4 285.3l2.9 2.9l-2.9 2.9l-2.9 -2.9zM273.0 285.3l2.9 2.9l-2.9 2.9l-2.9 -2.9zM299.1 288.9l2.9 2.9l-2.9 2.9l-2.9 -2.9zM308.1 289.9l2.9 2.9l-2.9 2.9l-2.9 -2.9zM303.1 309.3l2.9 2.9l-2.9 2.9l-2.9 -2.9zM324.0 282.0l2.9 2.9l-2.9 2.9l-2.9 -2.9zM331.3 290.2l2.9 2.9l-2.9 2.9l-2.9 -2.9zM235.7 275.0l2.9 2.9l-2.9 2.9l-2.9 -2.9zM269.7 274.1l2.9 2.9l-2.9 2.9l-2.9 -2.9zM282.1 275.0l2.9 2.9l-2.9 2.9l-2.9 -2.9zM286.2 275.0l2.9 2.9l-2.9 2.9l-2.9 -2.9zM301.1 273.4l2.9 2.9l-2.9 2.9l-2.9 -2.9zM321.0 274.1l2.9 2.9l-2.9 2.9l-2.9 -2.9zM327.3 275.0l2.9 2.9l-2.9 2.9l-2.9 -2.9zM223.3 270.7l2.9 2.9l-2.9 2.9l-2.9 -2.9zM340.0 270.1l2.9 2.9l-2.9 2.9l-2.9 -2.9zM418.7 239.4l2.9 2.9l-2.9 2.9l-2.9 -2.9zM423.6 241.1l2.9 2.9l-2.9 2.9l-2.9 -2.9zM387.2 287.3l2.9 2.9l-2.9 2.9l-2.9 -2.9zM405.4 278.7l2.9 2.9l-2.9 2.9l-2.9 -2.9zM413.2 278.3l2.9 2.9l-2.9 2.9l-2.9 -2.9zM431.1 278.3l2.9 2.9l-2.9 2.9l-2.9 -2.9zM430.3 292.2l2.9 2.9l-2.9 2.9l-2.9 -2.9zM441.0 292.7l2.9 2.9l-2.9 2.9l-2.9 -2.9zM445.2 283.6l2.9 2.9l-2.9 2.9l-2.9 -2.9zM448.0 298.9l2.9 2.9l-2.9 2.9l-2.9 -2.9zM457.3 279.8l2.9 2.9l-2.9 2.9l-2.9 -2.9zM466.2 278.7l2.9 2.9l-2.9 2.9l-2.9 -2.9zM399.6 274.2l2.9 2.9l-2.9 2.9l-2.9 -2.9zM425.3 275.8l2.9 2.9l-2.9 2.9l-2.9 -2.9zM437.7 275.0l2.9 2.9l-2.9 2.9l-2.9 -2.9zM450.1 275.0l2.9 2.9l-2.9 2.9l-2.9 -2.9zM356.6 274.2l2.9 2.9l-2.9 2.9l-2.9 -2.9zM365.7 275.0l2.9 2.9l-2.9 2.9l-2.9 -2.9zM374.0 275.0l2.9 2.9l-2.9 2.9l-2.9 -2.9zM539.2 245.5l2.9 2.9l-2.9 2.9l-2.9 -2.9zM549.1 246.8l2.9 2.9l-2.9 2.9l-2.9 -2.9zM536.2 250.1l2.9 2.9l-2.9 2.9l-2.9 -2.9zM515.0 247.6l2.9 2.9l-2.9 2.9l-2.9 -2.9zM487.4 249.3l2.9 2.9l-2.9 2.9l-2.9 -2.9zM472.5 249.3l2.9 2.9l-2.9 2.9l-2.9 -2.9zM475.0 295.2l2.9 2.9l-2.9 2.9l-2.9 -2.9zM481.9 283.9l2.9 2.9l-2.9 2.9l-2.9 -2.9zM485.7 281.9l2.9 2.9l-2.9 2.9l-2.9 -2.9zM496.2 277.8l2.9 2.9l-2.9 2.9l-2.9 -2.9zM511.1 288.1l2.9 2.9l-2.9 2.9l-2.9 -2.9zM513.0 281.9l2.9 2.9l-2.9 2.9l-2.9 -2.9zM512.2 278.6l2.9 2.9l-2.9 2.9l-2.9 -2.9zM524.1 293.0l2.9 2.9l-2.9 2.9l-2.9 -2.9zM528.8 278.6l2.9 2.9l-2.9 2.9l-2.9 -2.9zM533.7 283.9l2.9 2.9l-2.9 2.9l-2.9 -2.9zM536.2 282.8l2.9 2.9l-2.9 2.9l-2.9 -2.9zM542.8 282.8l2.9 2.9l-2.9 2.9l-2.9 -2.9zM544.2 285.6l2.9 2.9l-2.9 2.9l-2.9 -2.9zM548.1 290.7l2.9 2.9l-2.9 2.9l-2.9 -2.9zM544.8 293.0l2.9 2.9l-2.9 2.9l-2.9 -2.9zM547.8 278.3l2.9 2.9l-2.9 2.9l-2.9 -2.9zM552.3 301.0l2.9 2.9l-2.9 2.9l-2.9 -2.9zM556.9 282.3l2.9 2.9l-2.9 2.9l-2.9 -2.9zM559.4 281.1l2.9 2.9l-2.9 2.9l-2.9 -2.9zM564.9 315.0l2.9 2.9l-2.9 2.9l-2.9 -2.9zM573.5 275.3l2.9 2.9l-2.9 2.9l-2.9 -2.9zM571.0 264.6l2.9 2.9l-2.9 2.9l-2.9 -2.9z"/>
</g>
<g fill="none" stroke="#C0504D" stroke-width="1.8" stroke-linejoin="round">
<path d="M99.5 204.7h6v6h-6zM100.3 203.9h6v6h-6zM101.0 220.4h6v6h-6zM101.8 206.0h6v6h-6zM102.6 213.5h6v6h-6zM104.8 207.1h6v6h-6zM107.1 213.2h6v6h-6zM108.6 217.9h6v6h-6zM109.4 202.0h6v6h-6zM110.2 209.4h6v6h-6zM110.9 200.2h6v6h-6zM112.4 205.8h6v6h-6zM113.2 213.2h6v6h-6zM114.0 204.7h6v6h-6zM114.7 213.2h6v6h-6zM115.5 207.1h6v6h-6zM116.2 205.1h6v6h-6zM117.0 213.2h6v6h-6zM117.8 215.0h6v6h-6zM118.5 215.9h6v6h-6zM119.3 204.4h6v6h-6zM120.0 216.2h6v6h-6zM120.8 216.4h6v6h-6zM121.6 223.8h6v6h-6zM122.3 210.3h6v6h-6zM123.1 208.8h6v6h-6zM123.8 216.6h6v6h-6zM124.6 208.6h6v6h-6zM126.1 224.7h6v6h-6zM126.9 206.8h6v6h-6zM128.4 211.5h6v6h-6zM129.2 207.9h6v6h-6zM129.9 207.7h6v6h-6zM130.7 220.7h6v6h-6zM133.0 212.5h6v6h-6zM133.7 209.0h6v6h-6zM134.5 209.5h6v6h-6zM135.2 202.2h6v6h-6zM137.5 201.4h6v6h-6zM138.3 203.1h6v6h-6zM139.0 214.6h6v6h-6zM139.8 204.7h6v6h-6zM140.6 196.4h6v6h-6zM141.3 204.2h6v6h-6zM142.1 199.0h6v6h-6zM142.8 196.8h6v6h-6zM143.6 201.2h6v6h-6zM144.4 194.5h6v6h-6zM145.1 197.4h6v6h-6zM145.9 213.0h6v6h-6zM146.6 193.0h6v6h-6zM147.4 194.8h6v6h-6zM148.2 204.8h6v6h-6zM148.9 191.4h6v6h-6zM149.7 191.8h6v6h-6zM150.4 212.4h6v6h-6zM152.7 216.2h6v6h-6zM153.5 198.7h6v6h-6zM154.2 223.2h6v6h-6zM155.0 208.6h6v6h-6zM156.5 215.1h6v6h-6zM157.3 212.9h6v6h-6zM158.0 216.6h6v6h-6zM158.8 218.7h6v6h-6zM159.6 211.5h6v6h-6zM160.3 219.6h6v6h-6zM161.1 212.3h6v6h-6zM164.1 207.4h6v6h-6zM164.9 221.2h6v6h-6zM165.6 211.9h6v6h-6zM166.4 219.9h6v6h-6zM167.2 214.5h6v6h-6zM167.9 216.4h6v6h-6zM168.7 215.4h6v6h-6zM169.4 205.5h6v6h-6zM170.2 223.2h6v6h-6zM171.0 213.3h6v6h-6zM171.7 204.9h6v6h-6zM172.5 218.1h6v6h-6zM174.0 213.7h6v6h-6zM175.5 218.8h6v6h-6zM176.3 210.6h6v6h-6zM177.8 207.8h6v6h-6zM178.6 224.2h6v6h-6zM180.1 229.8h6v6h-6zM180.8 209.9h6v6h-6zM183.1 214.4h6v6h-6zM185.4 220.3h6v6h-6zM186.2 221.5h6v6h-6zM186.9 220.7h6v6h-6zM187.7 212.8h6v6h-6zM188.4 220.0h6v6h-6zM189.2 212.4h6v6h-6zM190.0 220.2h6v6h-6zM191.5 220.3h6v6h-6zM192.2 225.0h6v6h-6zM193.0 219.1h6v6h-6zM193.8 224.8h6v6h-6zM194.5 221.9h6v6h-6zM195.3 220.4h6v6h-6zM196.0 217.3h6v6h-6zM196.8 219.1h6v6h-6zM197.6 219.2h6v6h-6zM198.3 215.3h6v6h-6zM199.1 215.9h6v6h-6zM199.8 219.1h6v6h-6zM201.4 223.2h6v6h-6zM202.1 204.3h6v6h-6zM202.9 211.4h6v6h-6zM203.6 219.4h6v6h-6zM204.4 219.8h6v6h-6zM205.2 208.4h6v6h-6zM205.9 222.3h6v6h-6zM206.7 207.5h6v6h-6zM207.4 209.3h6v6h-6zM208.2 209.3h6v6h-6zM209.0 201.7h6v6h-6zM210.5 203.0h6v6h-6zM211.2 213.7h6v6h-6zM212.0 210.2h6v6h-6zM212.8 206.5h6v6h-6zM213.5 217.9h6v6h-6zM214.3 219.0h6v6h-6zM215.0 202.6h6v6h-6zM215.8 214.6h6v6h-6zM216.6 217.8h6v6h-6zM217.3 211.3h6v6h-6zM218.1 212.1h6v6h-6zM218.8 204.6h6v6h-6zM219.6 207.1h6v6h-6zM221.1 206.6h6v6h-6zM221.9 208.9h6v6h-6zM222.6 217.4h6v6h-6zM223.4 219.9h6v6h-6zM224.2 217.9h6v6h-6zM224.9 216.4h6v6h-6zM225.7 207.5h6v6h-6zM226.4 205.9h6v6h-6zM227.2 213.9h6v6h-6zM228.0 210.3h6v6h-6zM228.7 207.1h6v6h-6zM229.5 213.7h6v6h-6zM230.2 215.5h6v6h-6zM231.0 215.2h6v6h-6zM231.8 213.0h6v6h-6zM232.5 203.4h6v6h-6zM233.3 204.7h6v6h-6zM234.0 205.0h6v6h-6zM234.8 213.3h6v6h-6zM235.6 217.2h6v6h-6zM236.3 209.5h6v6h-6zM237.8 220.6h6v6h-6zM238.6 223.5h6v6h-6zM239.4 203.9h6v6h-6zM240.1 218.7h6v6h-6zM240.9 211.1h6v6h-6zM241.6 215.5h6v6h-6zM243.2 208.4h6v6h-6zM243.9 212.1h6v6h-6zM244.7 214.9h6v6h-6zM245.4 220.2h6v6h-6zM246.2 220.3h6v6h-6zM247.0 220.4h6v6h-6zM247.7 204.1h6v6h-6zM248.5 205.1h6v6h-6zM250.8 205.3h6v6h-6zM251.5 209.6h6v6h-6zM252.3 213.2h6v6h-6zM253.0 219.0h6v6h-6zM253.8 212.1h6v6h-6zM254.6 208.4h6v6h-6zM255.3 220.7h6v6h-6zM256.1 221.8h6v6h-6zM257.6 217.5h6v6h-6zM258.4 209.0h6v6h-6zM259.1 212.2h6v6h-6zM260.6 208.3h6v6h-6zM261.4 216.8h6v6h-6zM262.2 210.1h6v6h-6zM262.9 213.0h6v6h-6zM263.7 216.1h6v6h-6zM264.4 216.6h6v6h-6zM265.2 210.4h6v6h-6zM267.5 216.9h6v6h-6zM268.2 222.3h6v6h-6zM269.0 210.2h6v6h-6zM269.8 213.5h6v6h-6zM270.5 214.9h6v6h-6zM271.3 220.6h6v6h-6zM272.0 218.7h6v6h-6zM272.8 213.8h6v6h-6zM274.3 218.2h6v6h-6zM275.1 204.8h6v6h-6zM275.8 215.6h6v6h-6zM276.6 218.1h6v6h-6zM277.4 223.4h6v6h-6zM278.1 215.5h6v6h-6zM278.9 213.0h6v6h-6zM279.6 219.4h6v6h-6zM280.4 216.0h6v6h-6zM281.2 215.3h6v6h-6zM281.9 207.7h6v6h-6zM283.4 216.6h6v6h-6zM284.2 223.5h6v6h-6zM285.0 222.2h6v6h-6zM285.7 217.9h6v6h-6zM286.5 213.3h6v6h-6zM287.2 206.0h6v6h-6zM288.0 217.0h6v6h-6zM288.8 207.4h6v6h-6zM289.5 213.5h6v6h-6zM290.3 213.2h6v6h-6zM291.0 207.4h6v6h-6zM291.8 214.2h6v6h-6zM292.6 206.8h6v6h-6zM293.3 214.8h6v6h-6zM294.1 208.5h6v6h-6zM294.8 220.3h6v6h-6zM295.6 218.8h6v6h-6zM296.4 212.5h6v6h-6zM297.1 213.9h6v6h-6zM299.4 219.3h6v6h-6zM300.2 206.1h6v6h-6zM300.9 212.2h6v6h-6zM301.7 210.2h6v6h-6zM302.4 207.8h6v6h-6zM303.2 213.3h6v6h-6zM304.0 214.3h6v6h-6zM305.5 204.9h6v6h-6zM306.2 211.0h6v6h-6zM307.0 219.9h6v6h-6zM308.5 204.2h6v6h-6zM309.3 213.8h6v6h-6zM310.0 209.6h6v6h-6zM310.8 210.9h6v6h-6zM311.6 202.0h6v6h-6zM312.3 203.3h6v6h-6zM313.1 214.2h6v6h-6zM313.8 206.1h6v6h-6zM314.6 210.7h6v6h-6zM315.4 212.5h6v6h-6zM316.1 214.7h6v6h-6zM316.9 213.9h6v6h-6zM317.6 214.4h6v6h-6zM318.4 215.0h6v6h-6zM319.2 209.2h6v6h-6zM320.7 209.8h6v6h-6zM321.4 213.4h6v6h-6zM322.2 207.6h6v6h-6zM323.0 222.1h6v6h-6zM323.7 215.0h6v6h-6zM324.5 221.5h6v6h-6zM325.2 220.8h6v6h-6zM326.0 207.9h6v6h-6zM326.8 212.6h6v6h-6zM328.3 212.2h6v6h-6zM329.0 216.7h6v6h-6zM329.8 217.0h6v6h-6zM330.6 210.3h6v6h-6zM331.3 205.2h6v6h-6zM332.1 221.9h6v6h-6zM332.8 206.5h6v6h-6zM333.6 210.3h6v6h-6zM334.4 213.1h6v6h-6zM336.6 215.7h6v6h-6zM337.4 215.6h6v6h-6zM338.2 215.1h6v6h-6zM338.9 220.8h6v6h-6zM339.7 217.0h6v6h-6zM340.4 211.1h6v6h-6zM342.0 203.7h6v6h-6zM342.7 210.2h6v6h-6zM344.2 218.1h6v6h-6zM345.0 209.4h6v6h-6zM345.8 210.5h6v6h-6zM346.5 212.7h6v6h-6zM347.3 216.9h6v6h-6zM348.0 215.8h6v6h-6zM348.8 216.4h6v6h-6zM349.6 209.9h6v6h-6zM350.3 207.8h6v6h-6zM351.1 221.1h6v6h-6zM351.8 213.1h6v6h-6zM353.4 224.0h6v6h-6zM354.1 217.0h6v6h-6zM354.9 219.7h6v6h-6zM355.6 214.7h6v6h-6zM356.4 213.0h6v6h-6zM357.2 217.4h6v6h-6zM357.9 222.9h6v6h-6zM358.7 210.7h6v6h-6zM359.4 220.8h6v6h-6zM360.2 204.2h6v6h-6zM361.0 212.9h6v6h-6zM361.7 211.9h6v6h-6zM362.5 206.4h6v6h-6zM363.2 214.2h6v6h-6zM364.0 215.1h6v6h-6zM364.8 216.4h6v6h-6zM365.5 212.5h6v6h-6zM366.3 213.7h6v6h-6zM367.0 209.9h6v6h-6zM367.8 223.3h6v6h-6zM368.6 216.4h6v6h-6zM369.3 208.9h6v6h-6zM370.1 219.4h6v6h-6zM370.8 220.0h6v6h-6zM371.6 210.5h6v6h-6zM372.4 202.9h6v6h-6zM373.9 209.5h6v6h-6zM374.6 213.9h6v6h-6zM375.4 209.5h6v6h-6zM376.2 223.5h6v6h-6zM377.7 221.8h6v6h-6zM378.4 216.5h6v6h-6zM379.2 204.7h6v6h-6zM380.0 213.3h6v6h-6zM380.7 214.2h6v6h-6zM381.5 210.3h6v6h-6zM382.2 214.1h6v6h-6zM383.0 206.3h6v6h-6zM384.5 207.5h6v6h-6zM385.3 215.9h6v6h-6zM386.0 211.9h6v6h-6zM386.8 209.9h6v6h-6zM387.6 206.9h6v6h-6zM389.1 219.2h6v6h-6zM389.8 215.1h6v6h-6zM390.6 218.9h6v6h-6zM391.4 209.6h6v6h-6zM392.1 220.0h6v6h-6zM392.9 211.8h6v6h-6zM393.6 203.8h6v6h-6zM395.2 210.8h6v6h-6zM395.9 207.7h6v6h-6zM396.7 205.2h6v6h-6zM397.4 208.1h6v6h-6zM398.2 203.5h6v6h-6zM399.0 210.8h6v6h-6zM399.7 210.9h6v6h-6zM400.5 217.8h6v6h-6zM401.2 214.0h6v6h-6zM402.0 213.2h6v6h-6zM402.8 219.9h6v6h-6zM405.0 208.2h6v6h-6zM405.8 212.0h6v6h-6zM406.6 219.5h6v6h-6zM407.3 215.2h6v6h-6zM408.1 206.3h6v6h-6zM408.8 204.8h6v6h-6zM411.1 214.9h6v6h-6zM411.9 209.6h6v6h-6zM412.6 214.1h6v6h-6zM413.4 206.9h6v6h-6zM414.2 207.0h6v6h-6zM415.7 220.7h6v6h-6zM416.4 213.8h6v6h-6zM417.2 218.5h6v6h-6zM418.0 216.6h6v6h-6zM418.7 214.1h6v6h-6zM419.5 220.4h6v6h-6zM420.2 218.3h6v6h-6zM421.0 217.6h6v6h-6zM422.5 213.1h6v6h-6zM423.3 209.9h6v6h-6zM424.0 215.4h6v6h-6zM424.8 211.2h6v6h-6zM425.6 222.2h6v6h-6zM426.3 219.4h6v6h-6zM427.1 220.1h6v6h-6zM428.6 210.1h6v6h-6zM429.4 220.3h6v6h-6zM430.1 213.7h6v6h-6zM430.9 221.8h6v6h-6zM431.6 213.2h6v6h-6zM432.4 215.4h6v6h-6zM433.2 218.2h6v6h-6zM433.9 213.9h6v6h-6zM435.4 207.8h6v6h-6zM436.2 213.7h6v6h-6zM437.0 202.1h6v6h-6zM438.5 207.4h6v6h-6zM439.2 208.1h6v6h-6zM440.0 206.2h6v6h-6zM440.8 215.6h6v6h-6zM441.5 209.4h6v6h-6zM442.3 220.6h6v6h-6zM443.0 211.7h6v6h-6zM443.8 215.5h6v6h-6zM444.6 217.6h6v6h-6zM446.1 200.4h6v6h-6zM446.8 217.3h6v6h-6zM447.6 212.6h6v6h-6zM449.1 208.9h6v6h-6zM449.9 205.8h6v6h-6zM450.6 198.7h6v6h-6zM451.4 207.5h6v6h-6zM452.9 217.7h6v6h-6zM453.7 213.5h6v6h-6zM454.4 216.3h6v6h-6zM455.2 223.9h6v6h-6zM456.0 213.6h6v6h-6zM456.7 214.1h6v6h-6zM457.5 214.5h6v6h-6zM458.2 222.3h6v6h-6zM459.8 203.1h6v6h-6zM460.5 209.8h6v6h-6zM461.3 221.9h6v6h-6zM462.0 216.5h6v6h-6zM463.6 214.5h6v6h-6zM464.3 224.0h6v6h-6zM465.1 220.9h6v6h-6zM466.6 213.2h6v6h-6zM467.4 219.5h6v6h-6zM468.1 216.8h6v6h-6zM469.6 199.0h6v6h-6zM470.4 203.5h6v6h-6zM471.2 211.8h6v6h-6zM472.7 211.5h6v6h-6zM473.4 209.0h6v6h-6zM474.2 225.1h6v6h-6zM475.0 205.4h6v6h-6zM476.5 214.6h6v6h-6zM477.2 214.3h6v6h-6zM478.0 218.5h6v6h-6zM479.5 218.0h6v6h-6zM480.3 208.6h6v6h-6zM481.0 208.4h6v6h-6zM481.8 212.1h6v6h-6zM482.6 222.0h6v6h-6zM483.3 222.6h6v6h-6zM484.1 210.3h6v6h-6zM484.8 209.0h6v6h-6zM485.6 205.7h6v6h-6zM487.1 208.7h6v6h-6zM487.9 215.1h6v6h-6zM488.6 213.9h6v6h-6zM489.4 217.2h6v6h-6zM490.2 215.7h6v6h-6zM490.9 217.7h6v6h-6zM492.4 195.5h6v6h-6zM494.7 194.4h6v6h-6zM495.5 196.0h6v6h-6zM496.2 198.1h6v6h-6zM497.0 196.2h6v6h-6zM498.5 200.2h6v6h-6zM499.3 203.0h6v6h-6zM500.0 204.7h6v6h-6zM500.8 202.4h6v6h-6zM501.6 212.2h6v6h-6zM502.3 221.0h6v6h-6zM503.1 215.8h6v6h-6zM503.8 212.9h6v6h-6zM505.4 215.2h6v6h-6zM506.1 216.9h6v6h-6zM506.9 215.5h6v6h-6zM507.6 215.6h6v6h-6zM508.4 218.8h6v6h-6zM509.2 215.5h6v6h-6zM509.9 223.9h6v6h-6zM510.7 213.1h6v6h-6zM511.4 219.3h6v6h-6zM512.2 215.5h6v6h-6zM513.0 209.7h6v6h-6zM513.7 213.1h6v6h-6zM514.5 204.9h6v6h-6zM515.2 222.6h6v6h-6zM516.0 213.1h6v6h-6zM516.8 221.1h6v6h-6zM518.3 219.0h6v6h-6zM519.0 216.9h6v6h-6zM519.8 216.4h6v6h-6zM520.6 220.2h6v6h-6zM522.1 217.6h6v6h-6zM522.8 218.3h6v6h-6zM523.6 218.0h6v6h-6zM524.4 208.6h6v6h-6zM525.9 214.0h6v6h-6zM526.6 205.0h6v6h-6zM527.4 213.8h6v6h-6zM528.2 217.5h6v6h-6zM528.9 217.1h6v6h-6zM530.4 213.2h6v6h-6zM532.0 209.6h6v6h-6zM532.7 217.7h6v6h-6zM535.0 219.4h6v6h-6zM535.8 204.4h6v6h-6zM537.3 214.0h6v6h-6zM538.0 206.6h6v6h-6zM539.6 205.0h6v6h-6zM540.3 219.3h6v6h-6zM541.1 204.1h6v6h-6zM542.6 218.4h6v6h-6zM543.4 198.8h6v6h-6zM544.1 206.1h6v6h-6zM545.6 204.8h6v6h-6zM547.2 204.4h6v6h-6zM547.9 202.0h6v6h-6zM549.4 196.9h6v6h-6zM550.2 210.9h6v6h-6zM551.7 203.7h6v6h-6zM552.5 208.8h6v6h-6zM553.2 195.1h6v6h-6zM555.5 205.4h6v6h-6zM556.3 202.5h6v6h-6zM557.0 207.6h6v6h-6zM557.8 206.5h6v6h-6zM558.6 197.5h6v6h-6zM559.3 213.0h6v6h-6zM560.8 199.9h6v6h-6zM563.1 203.3h6v6h-6zM563.9 209.6h6v6h-6zM565.4 218.4h6v6h-6zM566.9 213.9h6v6h-6zM569.2 203.6h6v6h-6zM570.0 201.6h6v6h-6zM571.5 206.4h6v6h-6zM572.2 206.4h6v6h-6zM99.0 179.0h6v6h-6zM103.1 185.0h6v6h-6zM106.1 193.1h6v6h-6zM106.1 195.9h6v6h-6zM151.6 185.1h6v6h-6zM151.9 190.6h6v6h-6zM161.5 190.9h6v6h-6zM162.4 195.4h6v6h-6zM163.2 199.5h6v6h-6zM182.2 182.3h6v6h-6zM183.6 189.3h6v6h-6zM191.0 196.7h6v6h-6zM209.9 188.8h6v6h-6zM125.1 195.4h6v6h-6zM128.0 196.7h6v6h-6zM131.7 196.9h6v6h-6zM136.0 198.6h6v6h-6zM104.4 200.0h6v6h-6zM107.7 201.6h6v6h-6zM177.3 196.4h6v6h-6zM173.1 198.4h6v6h-6zM182.2 204.2h6v6h-6zM242.7 188.8h6v6h-6zM249.0 186.8h6v6h-6zM266.7 193.7h6v6h-6zM259.7 196.7h6v6h-6zM220.0 197.5h6v6h-6zM249.8 199.7h6v6h-6zM236.9 201.3h6v6h-6zM304.7 182.8h6v6h-6zM299.0 190.9h6v6h-6zM298.1 194.2h6v6h-6zM307.7 194.7h6v6h-6zM327.9 189.7h6v6h-6zM334.9 200.0h6v6h-6zM341.2 194.7h6v6h-6zM343.7 194.7h6v6h-6zM383.7 196.7h6v6h-6zM377.1 199.7h6v6h-6zM394.2 200.3h6v6h-6zM352.3 203.7h6v6h-6zM404.1 187.6h6v6h-6zM403.6 194.2h6v6h-6zM409.9 192.6h6v6h-6zM414.8 196.7h6v6h-6zM421.8 192.2h6v6h-6zM427.6 190.9h6v6h-6zM434.7 195.0h6v6h-6zM438.0 191.4h6v6h-6zM445.0 185.6h6v6h-6zM462.9 182.1h6v6h-6zM448.0 200.3h6v6h-6zM459.2 199.7h6v6h-6zM561.9 161.0h6v6h-6zM549.0 171.0h6v6h-6zM541.8 179.7h6v6h-6zM531.1 181.7h6v6h-6zM544.8 182.6h6v6h-6zM546.5 184.7h6v6h-6zM553.9 184.7h6v6h-6zM533.2 186.7h6v6h-6zM497.6 184.7h6v6h-6zM517.8 191.2h6v6h-6zM494.3 190.0h6v6h-6zM493.2 193.3h6v6h-6zM472.0 192.5h6v6h-6zM478.6 197.5h6v6h-6zM539.0 190.8h6v6h-6zM554.7 190.8h6v6h-6zM550.6 193.3h6v6h-6zM570.5 192.5h6v6h-6zM566.3 194.6h6v6h-6zM562.0 195.0h6v6h-6zM524.9 201.6h6v6h-6zM534.5 199.9h6v6h-6zM486.5 204.1h6v6h-6zM568.0 204.1h6v6h-6zM564.7 209.9h6v6h-6zM111.9 227.2h6v6h-6zM131.7 227.7h6v6h-6zM136.7 227.7h6v6h-6zM155.7 228.6h6v6h-6zM174.8 234.0h6v6h-6zM179.7 234.0h6v6h-6zM183.9 231.9h6v6h-6zM200.4 224.9h6v6h-6zM273.3 228.6h6v6h-6zM282.4 228.6h6v6h-6zM266.7 225.2h6v6h-6zM256.7 224.4h6v6h-6zM319.6 227.7h6v6h-6zM335.4 226.0h6v6h-6zM373.5 228.6h6v6h-6zM388.4 229.4h6v6h-6zM409.9 227.2h6v6h-6zM466.2 232.7h6v6h-6zM452.1 225.2h6v6h-6zM468.7 232.6h6v6h-6zM476.0 228.5h6v6h-6zM491.8 227.7h6v6h-6zM504.3 227.7h6v6h-6zM521.6 226.8h6v6h-6zM530.0 226.8h6v6h-6zM536.5 223.5h6v6h-6zM568.3 223.5h6v6h-6zM559.7 223.5h6v6h-6z"/>
</g>
</svg></body></html>
